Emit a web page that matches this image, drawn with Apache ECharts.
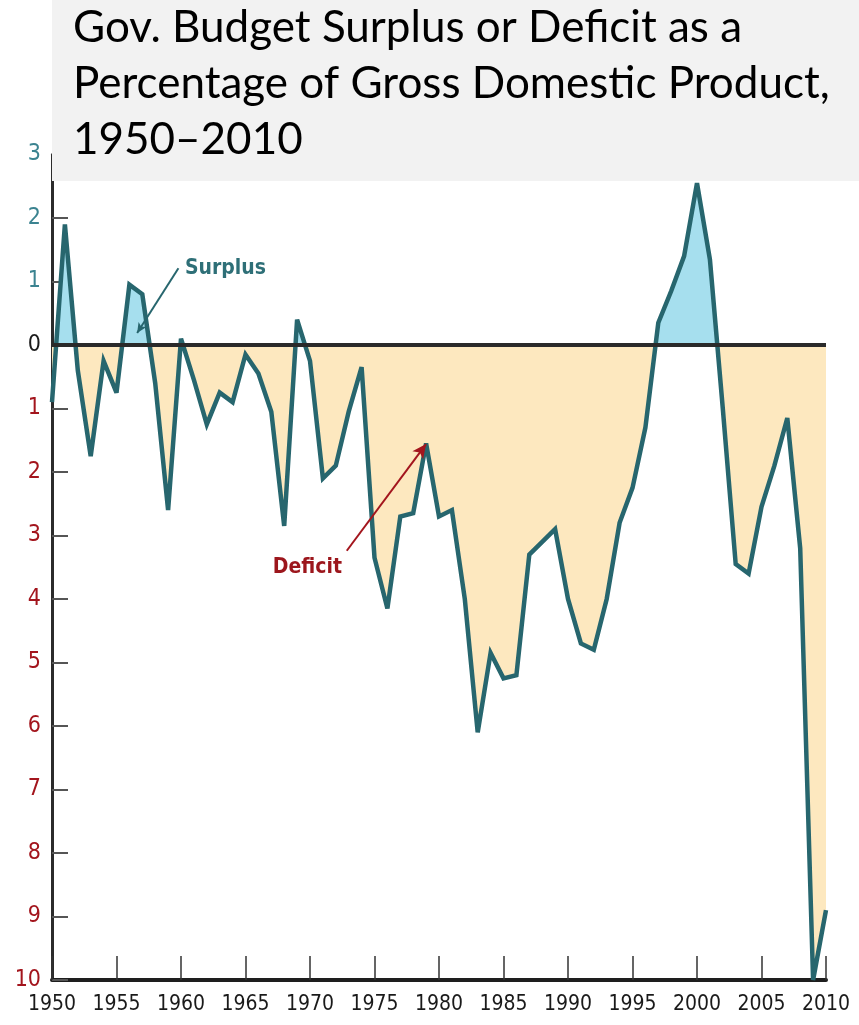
<!DOCTYPE html>
<html>
<head>
<meta charset="utf-8">
<script src="https://cdn.jsdelivr.net/npm/echarts@6/dist/echarts.min.js"></script>
<style>
html,body{margin:0;padding:0;background:#ffffff;}
#chart{width:859px;height:1025px;}
</style>
</head>
<body>
<div id="chart"></div>
<script>
// ---- data ----
const years = [1950,1951,1952,1953,1954,1955,1956,1957,1958,1959,
               1960,1961,1962,1963,1964,1965,1966,1967,1968,1969,
               1970,1971,1972,1973,1974,1975,1976,1977,1978,1979,
               1980,1981,1982,1983,1984,1985,1986,1987,1988,1989,
               1990,1991,1992,1993,1994,1995,1996,1997,1998,1999,
               2000,2001,2002,2003,2004,2005,2006,2007,2008,2009,2010];
const balancePctGDP = [-0.9, 1.9, -0.4, -1.75, -0.25, -0.75, 0.95, 0.8, -0.6, -2.6,
                       0.1, -0.55, -1.25, -0.75, -0.9, -0.15, -0.45, -1.05, -2.85, 0.4,
                       -0.25, -2.1, -1.9, -1.05, -0.35, -3.35, -4.15, -2.7, -2.65, -1.55,
                       -2.7, -2.6, -4.0, -6.1, -4.85, -5.25, -5.2, -3.3, -3.1, -2.9,
                       -4.0, -4.7, -4.8, -4.0, -2.8, -2.25, -1.3, 0.35, 0.85, 1.4,
                       2.55, 1.35, -1.0, -3.45, -3.6, -2.55, -1.9, -1.15, -3.2, -10.0, -8.9];
const titleLines = ['Gov. Budget Surplus or Deficit as a',
                    'Percentage of Gross Domestic Product,',
                    '1950\u20132010'];
const surplusLabel = 'Surplus';
const deficitLabel = 'Deficit';
// annotation anchors in data space [year, value]
const surplusTextAt = [1963.45, 1.21];
const surplusPointer = [[1959.8, 1.21], [1956.6, 0.19]];
const deficitTextAt = [1969.8, -3.5];
const deficitPointer = [[1972.85, -3.24], [1979.0, -1.56]];

// ---- styles ----
const NARROW = "'Liberation Sans Narrow','DejaVu Sans Condensed','Roboto Condensed',sans-serif";
const TEAL_LINE = '#27666e';
const TEAL_TEXT = '#3b8390';
const RED_TEXT = '#a3151d';
const SURPLUS_FILL = '#a6dfee';
const DEFICIT_FILL = '#fde8bf';

const points = years.map((y, i) => [y, balancePctGDP[i]]);

const chart = echarts.init(document.getElementById('chart'), null, {renderer: 'canvas'});
chart.setOption({
  animation: false,
  backgroundColor: '#ffffff',
  grid: {left: 52, right: 33, top: 154.5, bottom: 45, containLabel: false},
  xAxis: {
    type: 'value', min: 1950, max: 2010, interval: 5,
    axisLine: {onZero: false, lineStyle: {color: '#1e1e1e', width: 4}},
    axisTick: {show: true, inside: true, length: 24, lineStyle: {color: '#333', width: 1.5}},
    axisLabel: {color: '#1a1a1a', fontSize: 21, fontFamily: NARROW, margin: 14,
                formatter: v => String(v)},
    splitLine: {show: false}
  },
  yAxis: {
    type: 'value', min: -10, max: 3, interval: 1,
    axisLine: {show: true, lineStyle: {color: '#2b2b2b', width: 3}},
    axisTick: {show: true, inside: true, length: 16, lineStyle: {color: '#555', width: 2}},
    axisLabel: {fontSize: 23, fontFamily: NARROW, margin: 11,
                formatter: v => String(Math.abs(v)),
                color: v => { const n = Number(v); return n > 0 ? TEAL_TEXT : (n < 0 ? RED_TEXT : '#1a1a1a'); }},
    splitLine: {show: false}
  },
  visualMap: {
    show: false, type: 'piecewise', seriesIndex: 0, dimension: 1,
    pieces: [{gt: 0, lte: 20, color: SURPLUS_FILL}, {gte: -20, lte: 0, color: DEFICIT_FILL}]
  },
  series: [
    {
      type: 'line', data: points, symbol: 'none', silent: true, z: 1,
      lineStyle: {width: 0},
      areaStyle: {opacity: 1},
      markLine: {
        silent: true, symbol: ['none', 'none'], animation: false,
        label: {show: false},
        lineStyle: {color: '#2a2a2a', width: 4, type: 'solid'},
        data: [{yAxis: 0}]
      }
    },
    {
      type: 'line', data: points, symbol: 'none', silent: true, z: 3,
      lineStyle: {color: TEAL_LINE, width: 4.5, join: 'miter', miterLimit: 4},
      markLine: {
        silent: true, animation: false, label: {show: false},
        symbol: ['none', 'arrow'],
        data: [
          [{coord: surplusPointer[0], symbol: 'none', lineStyle: {color: TEAL_LINE, width: 2, type: 'solid'}},
           {coord: surplusPointer[1], symbol: 'arrow', symbolSize: [7, 10]}],
          [{coord: deficitPointer[0], symbol: 'none', lineStyle: {color: '#a3151d', width: 2, type: 'solid'}},
           {coord: deficitPointer[1], symbol: 'arrow', symbolSize: [10, 14]}]
        ]
      },
      markPoint: {
        silent: true, animation: false, symbol: 'rect', symbolSize: 1,
        itemStyle: {color: 'rgba(0,0,0,0)'},
        data: [
          {name: surplusLabel, coord: surplusTextAt,
           label: {show: true, position: 'inside', formatter: '{b}', color: '#2e6f77',
                   fontSize: 21, fontWeight: 'bold', fontFamily: NARROW}},
          {name: deficitLabel, coord: deficitTextAt,
           label: {show: true, position: 'inside', formatter: '{b}', color: '#9c161c',
                   fontSize: 21, fontWeight: 'bold', fontFamily: NARROW}}
        ]
      }
    }
  ],
  graphic: [
    {type: 'rect', left: 52, top: 0, z: 100, silent: true,
     shape: {width: 807, height: 181}, style: {fill: '#f2f2f2'}},
    {type: 'text', left: 73, top: 0, z: 101, silent: true,
     style: {text: titleLines.join('\n'), fill: '#000000',
             font: '44px Lato', lineHeight: 56}}
  ]
});
</script>
</body>
</html>
